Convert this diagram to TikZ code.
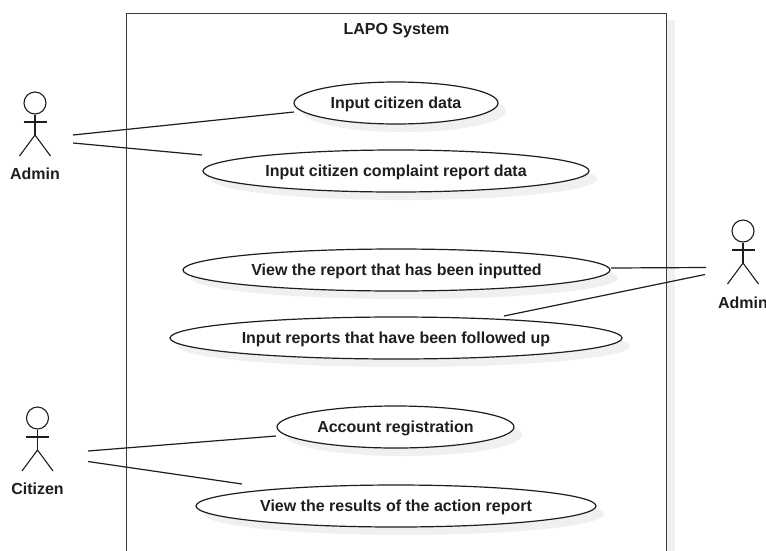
\documentclass[tikz,border=0pt]{standalone}
\usepackage{fontspec}
\setmainfont{Liberation Sans}
\usetikzlibrary{shapes.geometric}
\definecolor{ink}{HTML}{1E1E1E}
\definecolor{frameink}{HTML}{3C3C3C}
\definecolor{softgray}{HTML}{F0F0F0}
\newcommand{\uctext}[1]{\raisebox{-5.5pt}[0pt][0pt]{#1}}
\tikzset{
  x=1pt,y=-1pt,
  usecase/.style={ellipse,draw=ink,line width=1.2pt,fill=white,inner sep=0pt,minimum height=42pt,font=\fontsize{16}{18}\selectfont\bfseries,text=ink},
  shadowcase/.style={ellipse,fill=softgray,inner sep=0pt,minimum height=42pt},
  conn/.style={draw=ink,line width=1.2pt},
  stick/.style={draw=ink,line width=1.1pt},
  actorname/.style={font=\fontsize{16}{18}\selectfont\bfseries,text=ink,inner sep=0pt},
}
\newcommand{\actorfig}[4]{% x, head y, arm half, name prefix
  \node[circle,draw=ink,line width=1.1pt,minimum size=22pt,inner sep=0pt] (#4head) at (#1,#2) {};
  \coordinate (#4hip) at (#1,#2+32);
  \draw[stick] (#4head.south) -- (#4hip);
  \draw[stick] (#1-11.5,#2+19) -- (#1+11.5,#2+19);
  \draw[stick] (#1-15.5,#2+53) -- (#4hip) -- (#1+15.5,#2+53);
}
\begin{document}
\begin{tikzpicture}
\path[use as bounding box] (0,0) rectangle (766,550);
\clip (0,0) rectangle (766,550);
\fill[white] (0,0) rectangle (766,550);
% system boundary
\fill[softgray] (666,20) rectangle (675,560);
\node[draw=frameink,line width=1.4pt,fill=white,minimum width=540pt,minimum height=560pt,inner sep=0pt,anchor=north west] (system) at (126,13) {};
\node[font=\fontsize{16}{18}\selectfont\bfseries,text=ink,inner sep=0pt] (title) at (396.5,30.5) {LAPO System};
% shadows
\node[shadowcase,minimum width=204pt] (s1) at (404,111) {};
\node[shadowcase,minimum width=386pt] (s2) at (404,179) {};
\node[shadowcase,minimum width=427pt] (s3) at (404.5,278) {};
\node[shadowcase,minimum width=452pt] (s4) at (404,346) {};
\node[shadowcase,minimum width=237pt] (s5) at (403.5,435) {};
\node[shadowcase,minimum width=400pt] (s6) at (404,514) {};
% use cases
\node[usecase,minimum width=204pt] (uc1) at (396,103) {\uctext{Input citizen data}};
\node[usecase,minimum width=386pt] (uc2) at (396,171) {\uctext{Input citizen complaint report data}};
\node[usecase,minimum width=427pt] (uc3) at (396.5,270) {\uctext{View the report that has been inputted}};
\node[usecase,minimum width=452pt] (uc4) at (396,338) {\uctext{Input reports that have been followed up}};
\node[usecase,minimum width=237pt] (uc5) at (395.5,427) {\uctext{Account registration}};
\node[usecase,minimum width=400pt] (uc6) at (396,506) {\uctext{View the results of the action report}};
% actors
\actorfig{35}{103}{11.5}{a}
\actorfig{743}{231}{11.5}{b}
\actorfig{37.5}{418}{11.5}{c}
\node[actorname] (admin1) at (35,173.5) {Admin};
\node[actorname] (admin2) at (743,303) {Admin};
\node[actorname] (citizen) at (37.5,489) {Citizen};
% connector free ends
\coordinate (a1) at (73,135);
\coordinate (a2) at (73,143);
\coordinate (b1) at (706,267.5);
\coordinate (b2) at (705,274.5);
\coordinate (c1) at (88,451);
\coordinate (c2) at (88,461.5);
\coordinate (e1) at (294,112);
\coordinate (e2) at (202,155);
\coordinate (e3) at (611,268);
\coordinate (e4) at (504,316);
\coordinate (e5) at (276,436);
\coordinate (e6) at (242,484);
\draw[conn] (a1) -- (e1);
\draw[conn] (a2) -- (e2);
\draw[conn] (e3) -- (b1);
\draw[conn] (e4) -- (b2);
\draw[conn] (c1) -- (e5);
\draw[conn] (c2) -- (e6);
\end{tikzpicture}
\end{document}
